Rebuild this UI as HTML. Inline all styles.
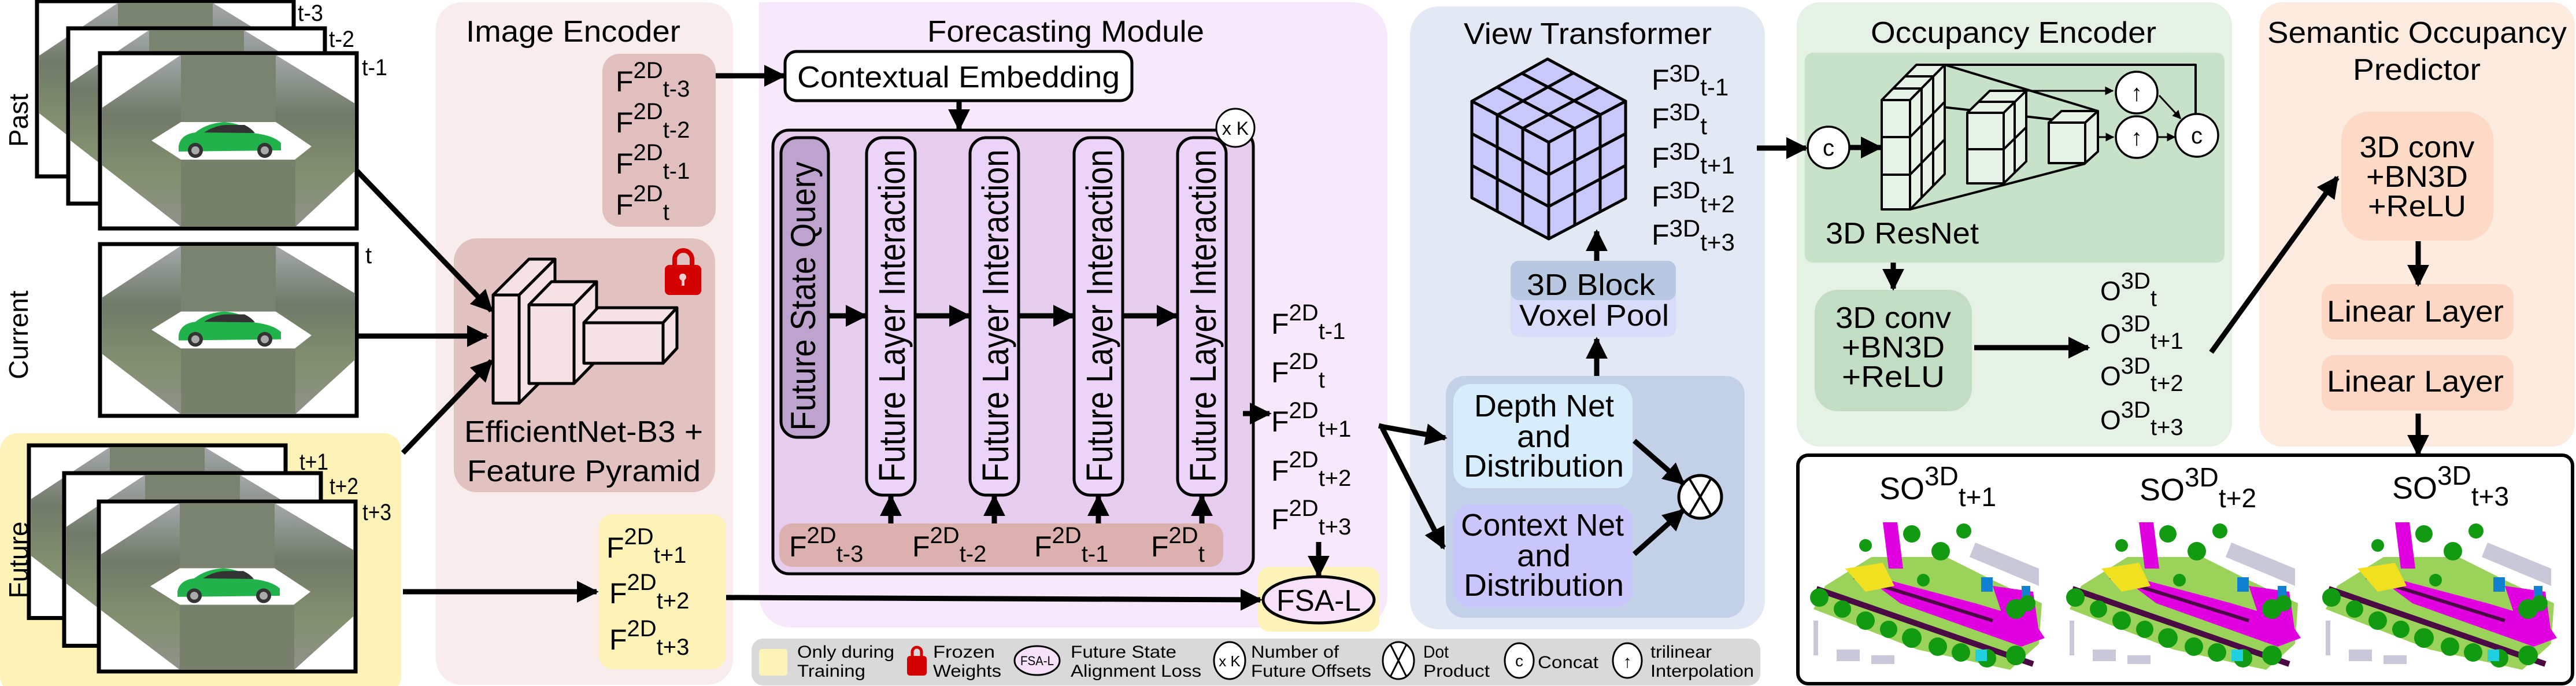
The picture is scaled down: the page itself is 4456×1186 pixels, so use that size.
<!DOCTYPE html>
<html><head><meta charset="utf-8"><style>
html,body{margin:0;padding:0;background:#fff;}
svg{display:block;}
text{font-family:"Liberation Sans",Arial,sans-serif;fill:#000;}
</style></head><body>
<svg width="4456" height="1186" viewBox="0 0 4456 1186" xmlns="http://www.w3.org/2000/svg">
<defs>
<marker id="ah" viewBox="0 0 10 10" refX="9" refY="5" markerWidth="4.2" markerHeight="4.2" orient="auto"><path d="M0,0 L10,5 L0,10 z" fill="#000"/></marker>
<marker id="as" viewBox="0 0 10 10" refX="9" refY="5" markerWidth="5" markerHeight="5" orient="auto"><path d="M0,0 L10,5 L0,10 z" fill="#000"/></marker>
<linearGradient id="ph" x1="0" y1="0" x2="0" y2="1"><stop offset="0" stop-color="#a3a8aa"/><stop offset="0.35" stop-color="#707a68"/><stop offset="0.7" stop-color="#83906f"/><stop offset="1" stop-color="#8e928a"/></linearGradient>
<g id="frame">
<rect x="0" y="0" width="444" height="303" fill="#fff" stroke="#000" stroke-width="7"/>
<polygon points="4,94 140,3 304,3 441,87 441,204 338,300 140,300 4,194" fill="url(#ph)"/>
<rect x="140" y="3" width="164" height="116" fill="#7a836f"/>
<rect x="140" y="184" width="198" height="116" fill="#76806a"/>
<polygon points="89,151 140,119 304,119 366,161 337,184 140,184" fill="#fff"/>
<path d="M136,160 Q140,140 165,137 Q185,121 215,119 Q245,121 265,138 Q300,142 313,155 L313,168 L136,170 z" fill="#21b24b"/>
<circle cx="165" cy="168" r="13" fill="#333"/><circle cx="165" cy="168" r="7" fill="#aaa"/>
<circle cx="285" cy="168" r="13" fill="#333"/><circle cx="285" cy="168" r="7" fill="#aaa"/>
<path d="M180,137 Q200,124 220,124 L250,124 Q262,130 268,138 z" fill="#333"/>
</g>
<g id="occ">
<polygon points="40,110 120,60 250,60 330,100 415,140 410,210 360,255 200,220 20,150" fill="#9ad25a"/>
<polygon points="140,0 165,0 175,80 150,80" fill="#e000e0"/>
<polygon points="150,100 300,140 400,170 420,200 380,215 170,140 130,110" fill="#e000e0"/>
<polygon points="330,110 400,120 410,190 350,170" fill="#e000e0"/>
<line x1="25" y1="115" x2="400" y2="245" stroke="#4a0a44" stroke-width="10"/>
<line x1="90" y1="95" x2="330" y2="170" stroke="#4a0a44" stroke-width="6"/>
<polygon points="75,80 140,70 160,110 110,120" fill="#f0e020"/>
<rect x="310" y="95" width="20" height="25" fill="#1080d0"/><rect x="380" y="110" width="15" height="20" fill="#1080d0"/>
<polygon points="300,35 410,80 410,110 290,60" fill="#c8c8d8"/>
<g fill="#139a13">
<circle cx="30" cy="130" r="16"/><circle cx="70" cy="150" r="15"/><circle cx="110" cy="170" r="16"/><circle cx="150" cy="185" r="15"/><circle cx="190" cy="200" r="17"/><circle cx="235" cy="215" r="16"/><circle cx="275" cy="225" r="16"/><circle cx="320" cy="235" r="16"/><circle cx="370" cy="230" r="17"/>
<circle cx="190" cy="20" r="15"/><circle cx="240" cy="50" r="16"/><circle cx="280" cy="15" r="13"/><circle cx="110" cy="40" r="11"/><circle cx="370" cy="150" r="17"/><circle cx="390" cy="140" r="14"/><circle cx="210" cy="100" r="11"/>
</g>
<rect x="300" y="220" width="20" height="20" fill="#20d0e0"/>
<g fill="#c8c8d8"><rect x="20" y="170" width="8" height="60"/><rect x="60" y="220" width="40" height="20"/><rect x="120" y="230" width="40" height="15"/></g>
</g>
</defs>

<use href="#frame" transform="translate(64,2)"/>
<use href="#frame" transform="translate(118,49)"/>
<use href="#frame" transform="translate(173,92)"/>
<text x="515" y="36" font-size="40" textLength="44" lengthAdjust="spacingAndGlyphs">t-3</text>
<text x="569" y="81" font-size="40" textLength="44" lengthAdjust="spacingAndGlyphs">t-2</text>
<text x="626" y="130" font-size="40" textLength="44" lengthAdjust="spacingAndGlyphs">t-1</text>
<text transform="translate(48,208) rotate(-90)" font-size="46" text-anchor="middle">Past</text>
<use href="#frame" transform="translate(173,422) scale(1,0.98)"/>
<text x="632" y="455" font-size="40">t</text>
<text transform="translate(48,579) rotate(-90)" font-size="46" text-anchor="middle">Current</text>

<rect x="0" y="749" width="694" height="450" rx="30" fill="#fdf3b8"/>
<use href="#frame" transform="translate(50,770) scale(1,0.985)"/>
<use href="#frame" transform="translate(111,818) scale(1,0.985)"/>
<use href="#frame" transform="translate(171,867) scale(1,0.97)"/>
<text x="518" y="812" font-size="40" textLength="50" lengthAdjust="spacingAndGlyphs">t+1</text>
<text x="570" y="854" font-size="40" textLength="50" lengthAdjust="spacingAndGlyphs">t+2</text>
<text x="627" y="899" font-size="40" textLength="50" lengthAdjust="spacingAndGlyphs">t+3</text>
<text transform="translate(48,968) rotate(-90)" font-size="46" text-anchor="middle">Future</text>

<rect x="754" y="4" width="514" height="1180" rx="45" fill="#f8ecec"/>
<text x="806" y="72" font-size="52" textLength="371" lengthAdjust="spacingAndGlyphs">Image Encoder</text>
<rect x="1042" y="93" width="196" height="299" rx="30" fill="#e1bfbe"/>
<g font-size="50">
<text x="1065" y="158">F<tspan font-size="40" dy="-23">2D</tspan><tspan font-size="40" dy="32">t-3</tspan></text>
<text x="1065" y="229">F<tspan font-size="40" dy="-23">2D</tspan><tspan font-size="40" dy="32">t-2</tspan></text>
<text x="1065" y="300">F<tspan font-size="40" dy="-23">2D</tspan><tspan font-size="40" dy="32">t-1</tspan></text>
<text x="1065" y="371">F<tspan font-size="40" dy="-23">2D</tspan><tspan font-size="40" dy="32">t</tspan></text>
</g>
<rect x="785" y="412" width="452" height="439" rx="40" fill="#e1c2c0"/>
<g stroke="#000" stroke-width="5" fill="#f6e1e5" stroke-linejoin="round">
<polygon points="853,510 915,448 960,448 898,510"/><polygon points="898,510 960,448 960,635 898,697"/><rect x="853" y="510" width="45" height="187"/>
<polygon points="915,527 954,487 1032,487 993,527"/><polygon points="993,527 1032,487 1032,623 993,663"/><rect x="915" y="527" width="78" height="136"/>
<polygon points="1010,558 1034,532 1171,532 1147,558"/><polygon points="1147,558 1171,532 1171,602 1147,628"/><rect x="1010" y="558" width="137" height="70"/>
</g>
<path d="M1167,460 V448 a15,15 0 0 1 30,0 V460" fill="none" stroke="#d40000" stroke-width="8"/>
<rect x="1150" y="458" width="63" height="52" rx="8" fill="#d40000"/>
<circle cx="1181" cy="479" r="6" fill="#f0d0d0"/><rect x="1179" y="480" width="5" height="14" fill="#f0d0d0"/>
<text x="803" y="764" font-size="52" textLength="413" lengthAdjust="spacingAndGlyphs">EfficientNet-B3 +</text>
<text x="808" y="832" font-size="52" textLength="404" lengthAdjust="spacingAndGlyphs">Feature Pyramid</text>
<rect x="1035" y="889" width="221" height="268" rx="25" fill="#fdf3b8"/>
<g font-size="50">
<text x="1049" y="964">F<tspan font-size="40" dy="-23">2D</tspan><tspan font-size="40" dy="32">t+1</tspan></text>
<text x="1054" y="1043">F<tspan font-size="40" dy="-23">2D</tspan><tspan font-size="40" dy="32">t+2</tspan></text>
<text x="1054" y="1123">F<tspan font-size="40" dy="-23">2D</tspan><tspan font-size="40" dy="32">t+3</tspan></text>
</g>

<path d="M1313,4 H2340 a60,60 0 0 1 60,60 V1030 a55,55 0 0 1 -55,55 H1368 a55,55 0 0 1 -55,-55 z" fill="#f8e8fb"/>
<text x="1604" y="72" font-size="52" textLength="479" lengthAdjust="spacingAndGlyphs">Forecasting Module</text>
<rect x="1358" y="89" width="600" height="85" rx="20" fill="#fff" stroke="#000" stroke-width="5"/>
<text x="1379" y="151" font-size="52" textLength="558" lengthAdjust="spacingAndGlyphs">Contextual Embedding</text>
<rect x="1337" y="225" width="831" height="767" rx="28" fill="#e6cdee" stroke="#000" stroke-width="5"/>
<circle cx="2137" cy="221" r="33" fill="#fff" stroke="#000" stroke-width="3"/>
<text x="2137" y="233" font-size="32" text-anchor="middle">x K</text>
<rect x="1351" y="238" width="82" height="518" rx="28" fill="#bfa3cf" stroke="#000" stroke-width="5"/>
<text transform="translate(1410,512) rotate(-90)" font-size="60" text-anchor="middle" textLength="465" lengthAdjust="spacingAndGlyphs">Future State Query</text>
<g fill="#ecd4f8" stroke="#000" stroke-width="5">
<rect x="1499" y="238" width="84" height="618" rx="28"/>
<rect x="1678" y="238" width="84" height="618" rx="28"/>
<rect x="1858" y="238" width="84" height="618" rx="28"/>
<rect x="2037" y="238" width="84" height="618" rx="28"/>
</g>
<g font-size="64" text-anchor="middle">
<text transform="translate(1565,546) rotate(-90)" textLength="575" lengthAdjust="spacingAndGlyphs">Future Layer Interaction</text>
<text transform="translate(1744,546) rotate(-90)" textLength="575" lengthAdjust="spacingAndGlyphs">Future Layer Interaction</text>
<text transform="translate(1924,546) rotate(-90)" textLength="575" lengthAdjust="spacingAndGlyphs">Future Layer Interaction</text>
<text transform="translate(2103,546) rotate(-90)" textLength="575" lengthAdjust="spacingAndGlyphs">Future Layer Interaction</text>
</g>
<rect x="1348" y="905" width="768" height="75" rx="22" fill="#dbb0ae"/>
<g font-size="50">
<text x="1365" y="962">F<tspan font-size="40" dy="-23">2D</tspan><tspan font-size="40" dy="32">t-3</tspan></text>
<text x="1578" y="962">F<tspan font-size="40" dy="-23">2D</tspan><tspan font-size="40" dy="32">t-2</tspan></text>
<text x="1789" y="962">F<tspan font-size="40" dy="-23">2D</tspan><tspan font-size="40" dy="32">t-1</tspan></text>
<text x="1991" y="962">F<tspan font-size="40" dy="-23">2D</tspan><tspan font-size="40" dy="32">t</tspan></text>
</g>
<g font-size="50">
<text x="2199" y="577">F<tspan font-size="40" dy="-23">2D</tspan><tspan font-size="40" dy="32">t-1</tspan></text>
<text x="2199" y="661">F<tspan font-size="40" dy="-23">2D</tspan><tspan font-size="40" dy="32">t</tspan></text>
<text x="2199" y="746">F<tspan font-size="40" dy="-23">2D</tspan><tspan font-size="40" dy="32">t+1</tspan></text>
<text x="2199" y="831">F<tspan font-size="40" dy="-23">2D</tspan><tspan font-size="40" dy="32">t+2</tspan></text>
<text x="2199" y="915">F<tspan font-size="40" dy="-23">2D</tspan><tspan font-size="40" dy="32">t+3</tspan></text>
</g>
<rect x="2176" y="980" width="210" height="112" rx="20" fill="#fdf3b8"/>
<ellipse cx="2281" cy="1037" rx="96" ry="40" fill="#f6e1f8" stroke="#000" stroke-width="5"/>
<text x="2281" y="1056" font-size="52" text-anchor="middle" textLength="146" lengthAdjust="spacingAndGlyphs">FSA-L</text>

<rect x="2439" y="11" width="614" height="1077" rx="50" fill="#e3e9f4"/>
<text x="2532" y="76" font-size="52" textLength="429" lengthAdjust="spacingAndGlyphs">View Transformer</text>
<g stroke="#000" stroke-width="5" fill="#c8c8fa" stroke-linejoin="round">
<polygon points="2677,102 2812,175 2679,246 2546,175"/>
<polygon points="2546,175 2679,246 2679,413 2546,342"/>
<polygon points="2679,246 2812,175 2812,343 2679,413"/>
<line x1="2590" y1="151" x2="2724" y2="222"/><line x1="2633" y1="127" x2="2768" y2="198"/>
<line x1="2722" y1="126" x2="2590" y2="199"/><line x1="2766" y1="151" x2="2634" y2="222"/>
<line x1="2590" y1="199" x2="2590" y2="366"/><line x1="2634" y1="222" x2="2634" y2="389"/>
<line x1="2546" y1="231" x2="2679" y2="302"/><line x1="2546" y1="286" x2="2679" y2="357"/>
<line x1="2724" y1="222" x2="2724" y2="389"/><line x1="2768" y1="198" x2="2768" y2="366"/>
<line x1="2812" y1="231" x2="2679" y2="302"/><line x1="2812" y1="286" x2="2679" y2="357"/>
</g>
<g font-size="50">
<text x="2857" y="155">F<tspan font-size="42" dy="-14">3D</tspan><tspan font-size="42" dy="24">t-1</tspan></text>
<text x="2857" y="222">F<tspan font-size="42" dy="-14">3D</tspan><tspan font-size="42" dy="24">t</tspan></text>
<text x="2857" y="290">F<tspan font-size="42" dy="-14">3D</tspan><tspan font-size="42" dy="24">t+1</tspan></text>
<text x="2857" y="357">F<tspan font-size="42" dy="-14">3D</tspan><tspan font-size="42" dy="24">t+2</tspan></text>
<text x="2857" y="423">F<tspan font-size="42" dy="-14">3D</tspan><tspan font-size="42" dy="24">t+3</tspan></text>
</g>
<rect x="2613" y="451" width="286" height="131" rx="14" fill="#d8dcf8"/>
<rect x="2613" y="451" width="286" height="68" rx="14" fill="#b8c8e0"/>
<text x="2641" y="510" font-size="52" textLength="222" lengthAdjust="spacingAndGlyphs">3D Block</text>
<text x="2628" y="563" font-size="52" textLength="259" lengthAdjust="spacingAndGlyphs">Voxel Pool</text>
<rect x="2501" y="650" width="517" height="418" rx="32" fill="#c2d1e7"/>
<rect x="2514" y="664" width="310" height="180" rx="30" fill="#d8edfc"/>
<rect x="2514" y="872" width="310" height="178" rx="30" fill="#c8c6fa"/>
<g font-size="54">
<text x="2550" y="720" textLength="242" lengthAdjust="spacingAndGlyphs">Depth Net</text>
<text x="2624" y="773" textLength="93" lengthAdjust="spacingAndGlyphs">and</text>
<text x="2532" y="824" textLength="277" lengthAdjust="spacingAndGlyphs">Distribution</text>
<text x="2527" y="926" textLength="282" lengthAdjust="spacingAndGlyphs">Context Net</text>
<text x="2624" y="979" textLength="93" lengthAdjust="spacingAndGlyphs">and</text>
<text x="2532" y="1030" textLength="277" lengthAdjust="spacingAndGlyphs">Distribution</text>
</g>
<circle cx="2941" cy="859" r="37" fill="#fff" stroke="#000" stroke-width="5"/>
<line x1="2922" y1="827" x2="2960" y2="891" stroke="#000" stroke-width="4"/>
<line x1="2960" y1="827" x2="2922" y2="891" stroke="#000" stroke-width="4"/>

<rect x="3108" y="4" width="753" height="768" rx="40" fill="#e6f1e6"/>
<text x="3236" y="74" font-size="52" textLength="494" lengthAdjust="spacingAndGlyphs">Occupancy Encoder</text>
<rect x="3122" y="91" width="726" height="363" rx="14" fill="#c8e1c9"/>
<g stroke="#000" stroke-width="4" fill="#e6f2e6" stroke-linejoin="round">
<line x1="3364" y1="112" x2="3629" y2="192"/>
<line x1="3255" y1="173" x2="3607" y2="213"/>
<line x1="3304" y1="362" x2="3607" y2="283"/>
<polygon points="3255,173 3315,112 3364,112 3304,173"/>
<polygon points="3304,173 3364,112 3364,301 3304,362"/>
<rect x="3255" y="173" width="49" height="189"/>
<line x1="3255" y1="237" x2="3304" y2="237"/><line x1="3255" y1="302" x2="3304" y2="302"/>
<line x1="3324" y1="153" x2="3324" y2="342"/><line x1="3344" y1="132" x2="3344" y2="322"/>
<line x1="3304" y1="237" x2="3364" y2="176"/><line x1="3304" y1="302" x2="3364" y2="241"/>
<line x1="3275" y1="153" x2="3324" y2="153"/><line x1="3295" y1="132" x2="3344" y2="132"/>
<polygon points="3403,195 3442,157 3505,157 3466,195"/>
<polygon points="3466,195 3505,157 3505,279 3466,317"/>
<rect x="3403" y="195" width="63" height="122"/>
<line x1="3403" y1="258" x2="3466" y2="258"/><line x1="3466" y1="258" x2="3505" y2="220"/>
<line x1="3422" y1="176" x2="3485" y2="176"/><line x1="3485" y1="176" x2="3485" y2="298"/>
<polygon points="3544,212 3566,192 3629,192 3607,212"/>
<polygon points="3607,212 3629,192 3629,262 3607,282"/>
<rect x="3544" y="212" width="63" height="70"/>
<polyline points="3364,112 3798,112 3798,198" fill="none"/>
</g>
<g stroke="#000" stroke-width="3">
<line x1="3505" y1="157" x2="3655" y2="157" marker-end="url(#as)"/>
<line x1="3631" y1="237" x2="3656" y2="237" marker-end="url(#as)"/>
<line x1="3733" y1="237" x2="3762" y2="237" marker-end="url(#as)"/>
<line x1="3735" y1="165" x2="3772" y2="205" marker-end="url(#as)"/>
</g>
<g fill="#fff" stroke="#000" stroke-width="3.5">
<circle cx="3696" cy="160" r="36"/><circle cx="3696" cy="237" r="36"/><circle cx="3800" cy="234" r="37"/><circle cx="3163" cy="255" r="36"/>
</g>
<g font-size="40" text-anchor="middle">
<text x="3696" y="174">↑</text><text x="3696" y="251">↑</text><text x="3800" y="248">c</text><text x="3163" y="269">c</text>
</g>
<text x="3158" y="421" font-size="52" textLength="265" lengthAdjust="spacingAndGlyphs">3D ResNet</text>
<rect x="3139" y="501" width="272" height="210" rx="40" fill="#c3dcc4"/>
<g font-size="52" text-anchor="middle">
<text x="3275" y="567" textLength="200" lengthAdjust="spacingAndGlyphs">3D conv</text>
<text x="3275" y="618" textLength="178" lengthAdjust="spacingAndGlyphs">+BN3D</text>
<text x="3275" y="669" textLength="178" lengthAdjust="spacingAndGlyphs">+ReLU</text>
</g>
<g font-size="46">
<text x="3633" y="519">O<tspan font-size="40" dy="-20">3D</tspan><tspan font-size="40" dy="30">t</tspan></text>
<text x="3633" y="593">O<tspan font-size="40" dy="-20">3D</tspan><tspan font-size="40" dy="30">t+1</tspan></text>
<text x="3633" y="666">O<tspan font-size="40" dy="-20">3D</tspan><tspan font-size="40" dy="30">t+2</tspan></text>
<text x="3633" y="742">O<tspan font-size="40" dy="-20">3D</tspan><tspan font-size="40" dy="30">t+3</tspan></text>
</g>

<rect x="3908" y="4" width="546" height="768" rx="40" fill="#fdebe0"/>
<text x="3922" y="74" font-size="52" textLength="518" lengthAdjust="spacingAndGlyphs">Semantic Occupancy</text>
<text x="4070" y="138" font-size="52" textLength="221" lengthAdjust="spacingAndGlyphs">Predictor</text>
<rect x="4050" y="193" width="263" height="223" rx="48" fill="#fcdac6"/>
<g font-size="52" text-anchor="middle">
<text x="4181" y="272" textLength="199" lengthAdjust="spacingAndGlyphs">3D conv</text>
<text x="4181" y="323" textLength="176" lengthAdjust="spacingAndGlyphs">+BN3D</text>
<text x="4181" y="374" textLength="170" lengthAdjust="spacingAndGlyphs">+ReLU</text>
</g>
<rect x="4016" y="491" width="332" height="96" rx="22" fill="#fcd8c4"/>
<rect x="4016" y="614" width="332" height="96" rx="22" fill="#fcd8c4"/>
<text x="4025" y="556" font-size="52" textLength="306" lengthAdjust="spacingAndGlyphs">Linear Layer</text>
<text x="4025" y="677" font-size="52" textLength="306" lengthAdjust="spacingAndGlyphs">Linear Layer</text>

<rect x="3110" y="787" width="1340" height="395" rx="18" fill="#fff" stroke="#000" stroke-width="6"/>
<g font-size="54">
<text x="3251" y="863">SO<tspan font-size="46" dy="-24">3D</tspan><tspan font-size="46" dy="36">t+1</tspan></text>
<text x="3701" y="865">SO<tspan font-size="46" dy="-24">3D</tspan><tspan font-size="46" dy="36">t+2</tspan></text>
<text x="4138" y="862">SO<tspan font-size="46" dy="-24">3D</tspan><tspan font-size="46" dy="36">t+3</tspan></text>
</g>
<use href="#occ" transform="translate(3117,903)"/>
<use href="#occ" transform="translate(3560,903)"/>
<use href="#occ" transform="translate(4003,903)"/>

<rect x="1300" y="1104" width="1745" height="81" rx="20" fill="#d9d9d9"/>
<rect x="1313" y="1122" width="49" height="46" rx="5" fill="#fdf3b8"/>
<g font-size="30">
<text x="1379" y="1137" textLength="168" lengthAdjust="spacingAndGlyphs">Only during</text>
<text x="1379" y="1170" textLength="118" lengthAdjust="spacingAndGlyphs">Training</text>
<text x="1614" y="1137" textLength="107" lengthAdjust="spacingAndGlyphs">Frozen</text>
<text x="1614" y="1170" textLength="118" lengthAdjust="spacingAndGlyphs">Weights</text>
<text x="1852" y="1137" textLength="183" lengthAdjust="spacingAndGlyphs">Future State</text>
<text x="1852" y="1170" textLength="226" lengthAdjust="spacingAndGlyphs">Alignment Loss</text>
<text x="2164" y="1137" textLength="152" lengthAdjust="spacingAndGlyphs">Number of</text>
<text x="2164" y="1170" textLength="208" lengthAdjust="spacingAndGlyphs">Future Offsets</text>
<text x="2462" y="1137" textLength="44" lengthAdjust="spacingAndGlyphs">Dot</text>
<text x="2462" y="1170" textLength="115" lengthAdjust="spacingAndGlyphs">Product</text>
<text x="2660" y="1155" textLength="105" lengthAdjust="spacingAndGlyphs">Concat</text>
<text x="2855" y="1137" textLength="106" lengthAdjust="spacingAndGlyphs">trilinear</text>
<text x="2855" y="1170" textLength="179" lengthAdjust="spacingAndGlyphs">Interpolation</text>
</g>
<path d="M1578,1135 V1127 a8,8 0 0 1 16,0 V1135" fill="none" stroke="#d40000" stroke-width="5"/>
<rect x="1569" y="1134" width="34" height="34" rx="5" fill="#d40000"/>
<ellipse cx="1794" cy="1142" rx="39" ry="25" fill="#f6e1f8" stroke="#000" stroke-width="3"/>
<text x="1794" y="1150" font-size="22" text-anchor="middle" textLength="58" lengthAdjust="spacingAndGlyphs">FSA-L</text>
<g fill="#fff" stroke="#000" stroke-width="3">
<ellipse cx="2127" cy="1142" rx="27" ry="32"/><ellipse cx="2419" cy="1142" rx="27" ry="32"/><ellipse cx="2628" cy="1142" rx="25" ry="30"/><ellipse cx="2815" cy="1142" rx="25" ry="30"/>
</g>
<line x1="2405" y1="1114" x2="2433" y2="1170" stroke="#000" stroke-width="3"/>
<line x1="2433" y1="1114" x2="2405" y2="1170" stroke="#000" stroke-width="3"/>
<text x="2127" y="1152" font-size="26" text-anchor="middle">x K</text>
<text x="2628" y="1152" font-size="28" text-anchor="middle">c</text>
<text x="2815" y="1154" font-size="30" text-anchor="middle">↑</text>

<g stroke="#000" stroke-width="9" fill="none" marker-end="url(#ah)">
<line x1="617" y1="295" x2="850" y2="537"/>
<line x1="617" y1="581" x2="842" y2="581"/>
<line x1="697" y1="783" x2="850" y2="624"/>
<line x1="697" y1="1023" x2="1032" y2="1023"/>
<line x1="1256" y1="1033" x2="2180" y2="1037"/>
<line x1="1238" y1="131" x2="1356" y2="131"/>
<line x1="1659" y1="174" x2="1659" y2="223"/>
<line x1="1433" y1="546" x2="1497" y2="546"/>
<line x1="1583" y1="546" x2="1676" y2="546"/>
<line x1="1762" y1="546" x2="1856" y2="546"/>
<line x1="1942" y1="546" x2="2035" y2="546"/>
<line x1="1541" y1="905" x2="1541" y2="858"/>
<line x1="1720" y1="905" x2="1720" y2="858"/>
<line x1="1900" y1="905" x2="1900" y2="858"/>
<line x1="2079" y1="905" x2="2079" y2="858"/>
<line x1="2150" y1="715" x2="2196" y2="715"/>
<line x1="2281" y1="937" x2="2281" y2="995"/>
<polyline points="2385,736 2393,738 2500,757"/>
<line x1="2391" y1="740" x2="2497" y2="947"/>
<line x1="2827" y1="762" x2="2912" y2="836"/>
<line x1="2827" y1="958" x2="2912" y2="882"/>
<line x1="2762" y1="650" x2="2762" y2="586"/>
<line x1="2762" y1="451" x2="2762" y2="400"/>
<line x1="3039" y1="256" x2="3124" y2="256"/>
<line x1="3199" y1="255" x2="3253" y2="255"/>
<line x1="3275" y1="454" x2="3275" y2="499"/>
<line x1="3415" y1="601" x2="3612" y2="601"/>
<line x1="3825" y1="609" x2="4043" y2="307"/>
<line x1="4183" y1="417" x2="4183" y2="492"/>
<line x1="4183" y1="715" x2="4183" y2="786"/>
</g>
</svg>
</body></html>
